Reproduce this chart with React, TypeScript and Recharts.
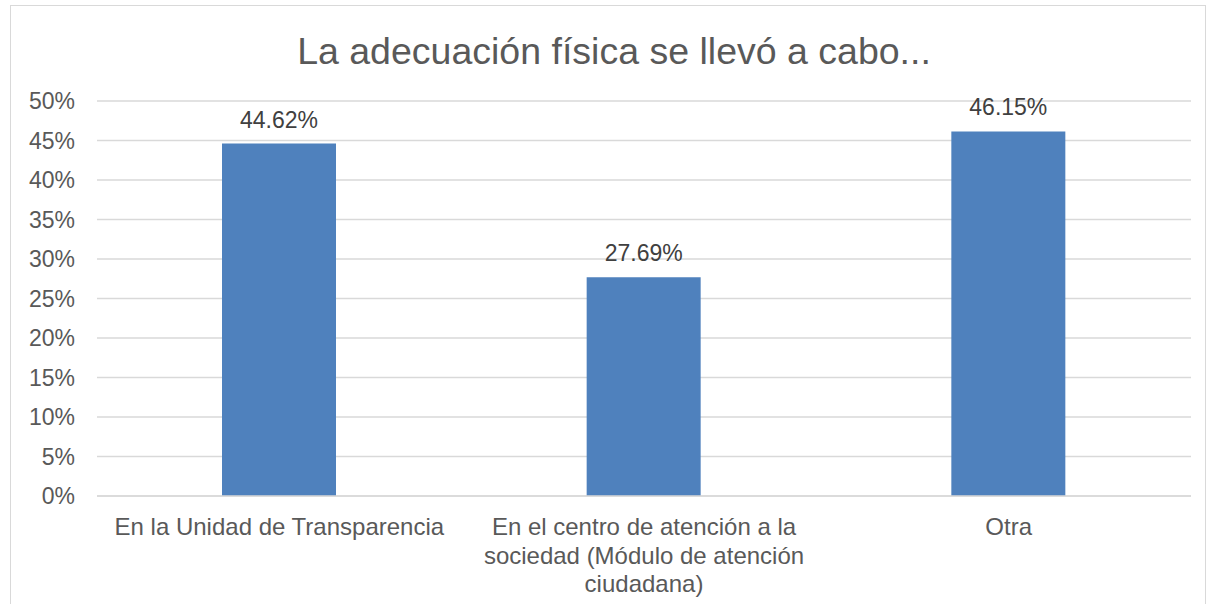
import React from 'react';
import { BarChart, Bar, XAxis, YAxis, CartesianGrid, LabelList } from 'recharts';

const categories = [
  'En la Unidad de Transparencia',
  'En el centro de atención a la sociedad (Módulo de atención ciudadana)',
  'Otra',
];
const shares = [0.4462, 0.2769, 0.4615];
const yTicks = [0, 0.05, 0.1, 0.15, 0.2, 0.25, 0.3, 0.35, 0.4, 0.45, 0.5];

const data = categories.map((name, i) => ({ name, value: shares[i] }));

const FONT = '"Liberation Sans", Arial, sans-serif';
const TICK_FONT_SIZE = 24;

// word-wrap with canvas measurement, recharts' Text measuring was unreliable here
let ctx: CanvasRenderingContext2D | null = null;
const wrap = (str: string, maxWidth: number) => {
  if (!ctx) {
    ctx = document.createElement('canvas').getContext('2d');
  }
  if (ctx) ctx.font = `${TICK_FONT_SIZE}px ${FONT}`;
  const measure = (s: string) => (ctx ? ctx.measureText(s).width : s.length * 12);
  const lines: string[] = [];
  let cur = '';
  str.split(' ').forEach((w) => {
    const next = cur ? `${cur} ${w}` : w;
    if (cur && measure(next) > maxWidth) {
      lines.push(cur);
      cur = w;
    } else {
      cur = next;
    }
  });
  if (cur) lines.push(cur);
  return lines;
};

const CategoryTick = (props: any) => {
  const { x, y, payload } = props;
  const lines = wrap(String(payload.value), 345);
  return (
    <text x={x} y={y} textAnchor="middle" fill="#595959" fontSize={TICK_FONT_SIZE} fontFamily={FONT}>
      {lines.map((l, i) => (
        <tspan key={i} x={x} y={y + 31 + i * 28.5}>
          {l}
        </tspan>
      ))}
    </text>
  );
};

export default function App() {
  return (
    <div style={{ position: 'absolute', left: 0, top: 0, width: 1209, height: 604, background: '#fff', overflow: 'hidden' }}>
      <div
        style={{
          position: 'absolute',
          left: 10,
          top: 5,
          width: 1196,
          height: 640,
          border: '1.5px solid #D9D9D9',
          boxSizing: 'border-box',
        }}
      />
      <div
        style={{
          position: 'absolute',
          left: 0,
          top: 29,
          width: 1228,
          textAlign: 'center',
          fontFamily: FONT,
          fontSize: 37.5,
          color: '#595959',
          lineHeight: '44px',
        }}
      >
        La adecuación física se llevó a cabo...
      </div>
      <div style={{ position: 'absolute', left: 0, top: 0 }}>
        <BarChart width={1209} height={604} data={data} margin={{ top: 101, right: 18, bottom: 0, left: 0 }}>
          <CartesianGrid vertical={false} stroke="#D9D9D9" strokeWidth={1.5} />
          <XAxis
            dataKey="name"
            height={108}
            axisLine={{ stroke: '#D9D9D9', strokeWidth: 1.5 }}
            tickLine={false}
            tick={<CategoryTick />}
            interval={0}
          />
          <YAxis
            width={97}
            domain={[0, 0.5]}
            ticks={yTicks}
            axisLine={false}
            tickLine={false}
            tickMargin={16}
            tickFormatter={(v: number) => `${Math.round(v * 100)}%`}
            tick={{ fill: '#595959', fontSize: 23, fontFamily: FONT }}
          />
          <Bar dataKey="value" fill="#4F81BD" barSize={114} isAnimationActive={false}>
            <LabelList
              dataKey="value"
              position="top"
              offset={16}
              formatter={(v: any) => `${(Number(v) * 100).toFixed(2)}%`}
              fill="#404040"
              fontSize={23}
              fontFamily={FONT}
            />
          </Bar>
        </BarChart>
      </div>
    </div>
  );
}
